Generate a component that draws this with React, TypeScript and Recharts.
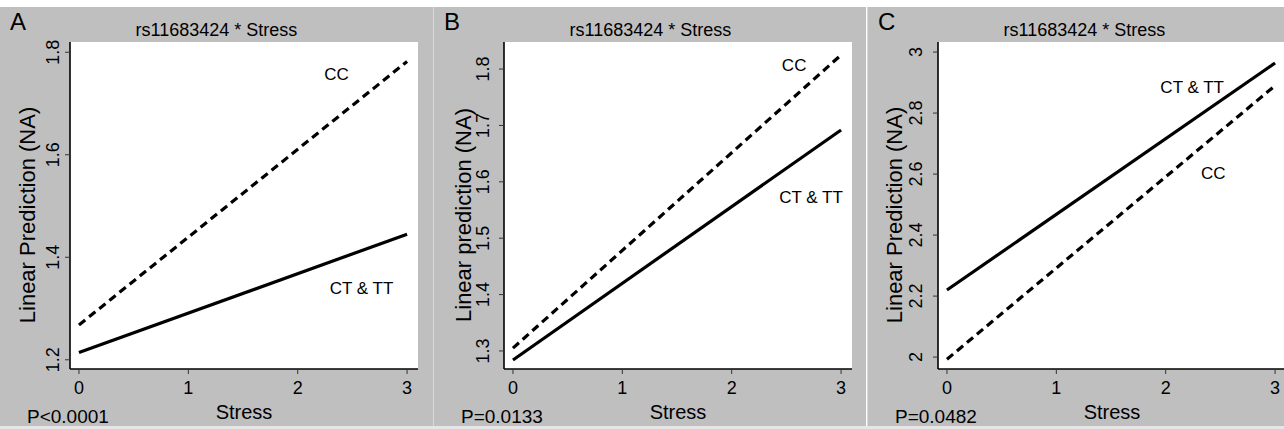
import React from 'react';
import { LineChart, Line, XAxis, YAxis, CartesianGrid, ReferenceDot } from 'recharts';

// ---- data ----
const stress = [0, 3];
const xTicks = [0, 1, 2, 3];

const aCTTT = [1.214, 1.445];
const aCC = [1.268, 1.782];
const aYTicks = [1.2, 1.4, 1.6, 1.8];

const bCTTT = [1.284, 1.692];
const bCC = [1.305, 1.825];
const bYTicks = [1.3, 1.4, 1.5, 1.6, 1.7, 1.8];

const cCTTT = [2.22, 2.964];
const cCC = [1.993, 2.89];
const cYTicks = [2, 2.2, 2.4, 2.6, 2.8, 3];

const panelLetters = ['A', 'B', 'C'];
const panelTitles = ['rs11683424 * Stress', 'rs11683424 * Stress', 'rs11683424 * Stress'];
const yTitles = ['Linear Prediction (NA)', 'Linear prediction (NA)', 'Linear Prediction (NA)'];
const xTitle = 'Stress';
const pValues = ['P<0.0001', 'P=0.0133', 'P=0.0482'];

// line labels in data units
const aNotes = [
  { text: 'CC', x: 2.356, y: 1.757 },
  { text: 'CT & TT', x: 2.584, y: 1.34 },
];
const bNotes = [
  { text: 'CC', x: 2.571, y: 1.807 },
  { text: 'CT & TT', x: 2.726, y: 1.573 },
];
const cNotes = [
  { text: 'CT & TT', x: 2.242, y: 2.885 },
  { text: 'CC', x: 2.434, y: 2.603 },
];

const FONT = '"Liberation Sans", Arial, Helvetica, sans-serif';
const BG = '#bfbfbf';

type Note = { text: string; x: number; y: number };

const YTick = (props: any) => {
  const { x, y, payload } = props;
  return (
    <text
      transform={`translate(${x},${y}) rotate(-90)`}
      textAnchor="middle"
      fontSize={18}
      fill="#000"
      fontFamily={FONT}
    >
      {String(payload.value)}
    </text>
  );
};

function Panel(props: {
  idx: number;
  left: number;
  ctt: number[];
  cc: number[];
  domain: [number, number];
  yTicks: number[];
  notes: Note[];
  tickGap: number;
  yTitleX: number;
}) {
  const { idx, left, ctt, cc, domain, yTicks, notes, tickGap, yTitleX } = props;
  const rows = stress.map((s, i) => ({ stress: s, ctt: ctt[i], cc: cc[i] }));
  return (
    <div
      style={{
        position: 'absolute',
        left,
        top: 7,
        width: 433,
        height: 419,
        background: BG,
        overflow: 'hidden',
        fontFamily: FONT,
        borderLeft: idx > 0 ? '1px solid #d9d9d9' : 'none',
        boxSizing: 'border-box',
      }}
    >
      <div style={{ position: 'absolute', left: 0, top: 0 }}>
        <LineChart
          width={433}
          height={419}
          data={rows}
          margin={{ top: 35, right: 15, bottom: 0, left: 0 }}
        >
          <CartesianGrid horizontal={false} vertical={false} fill="#ffffff" stroke="none" />
          <XAxis
            type="number"
            dataKey="stress"
            domain={[-0.082, 3.1]}
            ticks={xTicks}
            height={57}
            axisLine={{ stroke: '#000', strokeWidth: 1.6 }}
            tickLine={{ stroke: '#333', strokeWidth: 1 }}
            tickSize={5}
            tickMargin={7}
            tick={{ fontSize: 18, fill: '#000', fontFamily: FONT }}
            interval={0}
          />
          <YAxis
            type="number"
            domain={domain}
            ticks={yTicks}
            width={70}
            axisLine={{ stroke: '#000', strokeWidth: 1.6 }}
            tickLine={{ stroke: '#333', strokeWidth: 1 }}
            tickSize={5}
            tickMargin={tickGap}
            tick={<YTick />}
            interval={0}
            allowDataOverflow
          />
          <Line
            type="linear"
            dataKey="ctt"
            stroke="#000"
            strokeWidth={3.2}
            dot={false}
            activeDot={false}
            isAnimationActive={false}
          />
          <Line
            type="linear"
            dataKey="cc"
            stroke="#000"
            strokeWidth={3.2}
            strokeDasharray="8 5"
            dot={false}
            activeDot={false}
            isAnimationActive={false}
          />
          {notes.map((n, i) => (
            <ReferenceDot
              key={i}
              x={n.x}
              y={n.y}
              r={0}
              fill="none"
              stroke="none"
              label={{ value: n.text, position: 'center', fontSize: 17, fill: '#000', fontFamily: FONT }}
            />
          ))}
        </LineChart>
      </div>
      {/* panel letter */}
      <div
        style={{
          position: 'absolute',
          left: 10,
          top: 3,
          fontSize: 24,
          lineHeight: '24px',
          color: '#000',
        }}
      >
        {panelLetters[idx]}
      </div>
      {/* title */}
      <div
        style={{
          position: 'absolute',
          left: 0,
          width: 433,
          top: 14,
          fontSize: 18,
          lineHeight: '18px',
          textAlign: 'center',
          color: '#000',
          whiteSpace: 'nowrap',
        }}
      >
        {panelTitles[idx]}
      </div>
      {/* y title */}
      <div
        style={{
          position: 'absolute',
          left: yTitleX,
          top: 208,
          fontSize: 22,
          lineHeight: '22px',
          color: '#000',
          whiteSpace: 'nowrap',
          transform: 'translate(-50%, -50%) rotate(-90deg)',
        }}
      >
        {yTitles[idx]}
      </div>
      {/* x title */}
      <div
        style={{
          position: 'absolute',
          left: 244,
          top: 405,
          fontSize: 20,
          lineHeight: '20px',
          color: '#000',
          whiteSpace: 'nowrap',
          transform: 'translate(-50%, -50%)',
        }}
      >
        {xTitle}
      </div>
      {/* p value */}
      <div
        style={{
          position: 'absolute',
          left: 27,
          top: 402,
          fontSize: 19,
          lineHeight: '16px',
          color: '#000',
          whiteSpace: 'nowrap',
        }}
      >
        {pValues[idx]}
      </div>
    </div>
  );
}

export default function App() {
  return (
    <div
      style={{
        position: 'absolute',
        left: 0,
        top: 0,
        width: 1284,
        height: 429,
        background: '#ffffff',
        overflow: 'hidden',
      }}
    >
      <div style={{ position: 'absolute', left: 0, top: 426, width: 1284, height: 3, background: '#e6e6e6' }} />
      <Panel idx={0} left={0} ctt={aCTTT} cc={aCC} domain={[1.182, 1.82]} yTicks={aYTicks} notes={aNotes} tickGap={6} yTitleX={28} />
      <Panel idx={1} left={433} ctt={bCTTT} cc={bCC} domain={[1.268, 1.848]} yTicks={bYTicks} notes={bNotes} tickGap={10} yTitleX={30} />
      <Panel idx={2} left={867} ctt={cCTTT} cc={cCC} domain={[1.961, 3.033]} yTicks={cYTicks} notes={cNotes} tickGap={11} yTitleX={27} />
    </div>
  );
}
